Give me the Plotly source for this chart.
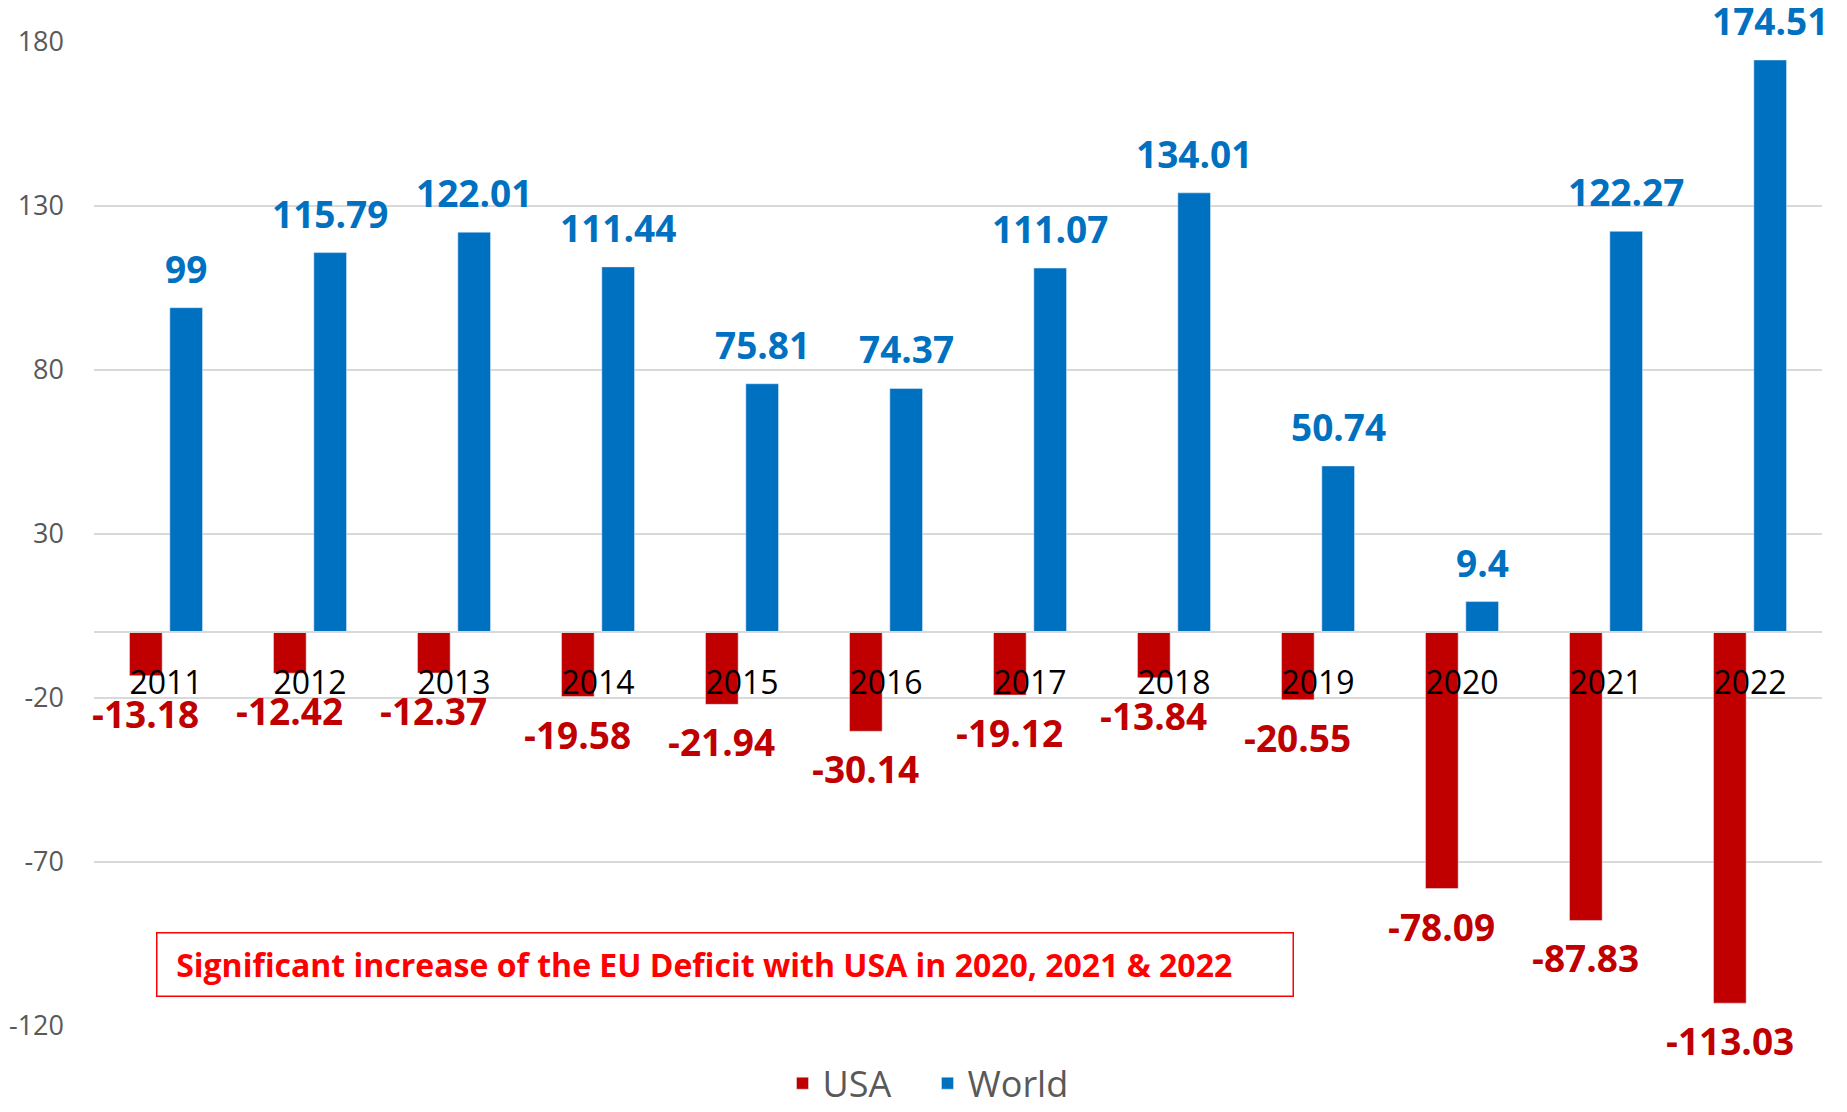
import plotly.graph_objects as go

years = [2011, 2012, 2013, 2014, 2015, 2016,
         2017, 2018, 2019, 2020, 2021, 2022]
usa = [-13.18, -12.42, -12.37, -19.58, -21.94, -30.14,
       -19.12, -13.84, -20.55, -78.09, -87.83, -113.03]
world = [99, 115.79, 122.01, 111.44, 75.81, 74.37,
         111.07, 134.01, 50.74, 9.4, 122.27, 174.51]
y_ticks = [-120, -70, -20, 30, 80, 130, 180]
note = "Significant increase of the EU Deficit with USA in 2020, 2021 &amp; 2022"

RED = "#C00000"
BLUE = "#0070C0"
FONT = "Open Sans"

fig = go.Figure()
fig.add_trace(go.Bar(x=years, y=usa, name="USA", marker=dict(color=RED), hoverinfo="x+y"))
fig.add_trace(go.Bar(x=years, y=world, name="World", marker=dict(color=BLUE), hoverinfo="x+y"))

# value labels, Excel style, with a wider gap from the bar ends than plotly's outside text
for yr, v in zip(years, usa):
    fig.add_annotation(x=yr, y=v, text=f"{v}", showarrow=False,
                       xshift=-20.3, yanchor="top", yshift=-10,
                       font=dict(family=FONT, size=37, color=RED, weight="bold"))
for yr, v in zip(years, world):
    fig.add_annotation(x=yr, y=v, text=f"{v}", showarrow=False,
                       xshift=20.3, yanchor="bottom", yshift=12,
                       font=dict(family=FONT, size=37, color=BLUE, weight="bold"))

fig.add_annotation(xref="paper", yref="paper", x=0.365, y=0.062,
                   xanchor="center", yanchor="middle",
                   text="&nbsp;&nbsp;" + note, showarrow=False,
                   width=1131, height=58, align="left",
                   bordercolor="#FF0000", borderwidth=1.5, borderpad=2,
                   font=dict(family=FONT, size=32, color="#FF0000", weight="bold"))

# the page body adds an 8px offset, so the figure is 8px smaller than the window
fig.update_layout(
    width=1839, height=1104,
    margin=dict(l=86, r=25, t=34, b=86, autoexpand=False),
    paper_bgcolor="white", plot_bgcolor="white",
    barmode="group", bargap=0.44, bargroupgap=0.19,
    font=dict(family=FONT, color="#595959"),
    legend=dict(orientation="h", xref="container", yref="container",
                x=0.5, y=0.026, xanchor="center", yanchor="middle",
                font=dict(family=FONT, size=36, color="#595959"),
                itemwidth=30, entrywidth=100),
)
fig.update_xaxes(range=[years[0] - 0.5, years[-1] + 0.5], dtick=1,
                 anchor="free", position=(0 + 120) / 300, side="bottom",
                 showline=True, linecolor="#D9D9D9", linewidth=1.5,
                 showgrid=False, zeroline=False, ticks="", ticklabelstandoff=22,
                 tickfont=dict(family=FONT, size=32, color="black"))
fig.update_yaxes(range=[-120, 180], tickmode="array", tickvals=y_ticks,
                 ticktext=[str(t) for t in y_ticks],
                 showgrid=True, gridcolor="#D9D9D9", gridwidth=1.5,
                 zeroline=False, showline=False, ticks="",
                 ticklabelstandoff=29,
                 tickfont=dict(family=FONT, size=27, color="#595959"))

fig.write_html("out.html")
